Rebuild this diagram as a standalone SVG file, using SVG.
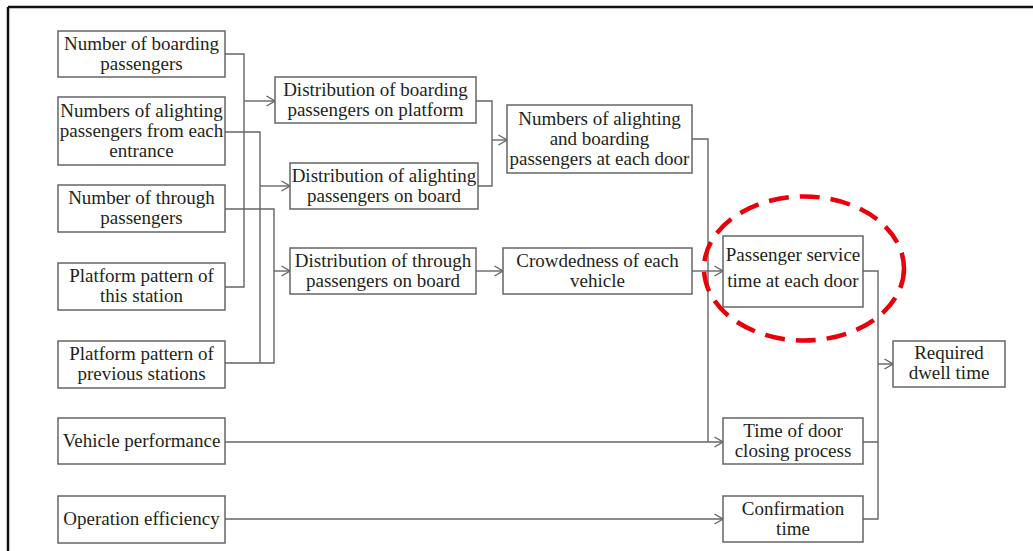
<svg xmlns="http://www.w3.org/2000/svg" width="1033" height="551" viewBox="0 0 1033 551">
<style>
.box{fill:#fff;stroke:#666;stroke-width:1.5}
.t{font-family:"Liberation Serif","Times New Roman",serif;font-size:19px;fill:#231f20;text-anchor:middle}
.c{fill:none;stroke:#666;stroke-width:1.4}
.a{marker-end:url(#arr)}
</style>
<defs>
<marker id="arr" markerUnits="userSpaceOnUse" viewBox="0 0 10 12" markerWidth="10" markerHeight="12" refX="9.5" refY="6" orient="auto">
<path d="M1,1 L9.5,6 L1,11" fill="none" stroke="#666" stroke-width="1.4"/>
</marker>
</defs>
<rect width="1033" height="551" fill="#fff"/>
<g id="frame">
<path d="M8,7 H1033 M8,7 V551" fill="none" stroke="#111" stroke-width="2.5"/>
</g>
<g id="connectors">
<path class="c" d="M225,54 H244 V287 H225"/>
<path class="c a" d="M244,101 H275"/>
<path class="c" d="M225,132 H260 V363"/>
<path class="c a" d="M260,186 H290"/>
<path class="c" d="M225,209 H274 V363 H225"/>
<path class="c a" d="M274,271 H290"/>
<path class="c" d="M476,101 H492 V186 H478"/>
<path class="c a" d="M492,140 H507"/>
<path class="c a" d="M476,271 H503"/>
<path class="c" d="M692,139 H708 V442"/>
<path class="c a" d="M692,271 H723"/>
<path class="c a" d="M225,442 H723"/>
<path class="c a" d="M225,519 H723"/>
<path class="c" d="M863,271 H878 V519 H863 M863,442 H878"/>
<path class="c a" d="M878,364 H893"/>
</g>
<g id="n1"><rect class="box" x="58" y="31" width="167" height="46"/><text class="t" x="141.5" y="50">Number of boarding</text><text class="t" x="141.5" y="70">passengers</text></g>
<g id="n2"><rect class="box" x="58" y="97" width="167" height="68"/><text class="t" x="141.5" y="117">Numbers of alighting</text><text class="t" x="141.5" y="137">passengers from each</text><text class="t" x="141.5" y="157">entrance</text></g>
<g id="n3"><rect class="box" x="58" y="185" width="167" height="47"/><text class="t" x="141.5" y="204">Number of through</text><text class="t" x="141.5" y="224">passengers</text></g>
<g id="n4"><rect class="box" x="58" y="263" width="167" height="47"/><text class="t" x="141.5" y="282">Platform pattern of</text><text class="t" x="141.5" y="302">this station</text></g>
<g id="n5"><rect class="box" x="58" y="341" width="167" height="47"/><text class="t" x="141.5" y="360">Platform pattern of</text><text class="t" x="141.5" y="380">previous stations</text></g>
<g id="n6"><rect class="box" x="58" y="418" width="167" height="46"/><text class="t" x="141.5" y="447">Vehicle performance</text></g>
<g id="n7"><rect class="box" x="58" y="496" width="167" height="47"/><text class="t" x="141.5" y="525">Operation efficiency</text></g>
<g id="m1"><rect class="box" x="275" y="77" width="201" height="46"/><text class="t" x="375.5" y="96">Distribution of boarding</text><text class="t" x="375.5" y="116">passengers on platform</text></g>
<g id="m2"><rect class="box" x="290" y="163" width="188" height="46"/><text class="t" x="384" y="182">Distribution of alighting</text><text class="t" x="384" y="202">passengers on board</text></g>
<g id="m3"><rect class="box" x="290" y="248" width="186" height="46"/><text class="t" x="383" y="267">Distribution of through</text><text class="t" x="383" y="287">passengers on board</text></g>
<g id="d1"><rect class="box" x="507" y="105" width="185" height="68"/><text class="t" x="599.5" y="125">Numbers of alighting</text><text class="t" x="599.5" y="145">and boarding</text><text class="t" x="599.5" y="165">passengers at each door</text></g>
<g id="d2"><rect class="box" x="503" y="248" width="189" height="46"/><text class="t" x="597.5" y="267">Crowdedness of each</text><text class="t" x="597.5" y="287">vehicle</text></g>
<g id="r1"><rect class="box" x="723" y="236" width="140" height="71"/><text class="t" x="793" y="261">Passenger service</text><text class="t" x="793" y="287">time at each door</text></g>
<g id="r2"><rect class="box" x="723" y="418" width="140" height="46"/><text class="t" x="793" y="437">Time of door</text><text class="t" x="793" y="457">closing process</text></g>
<g id="r3"><rect class="box" x="723" y="496" width="140" height="46"/><text class="t" x="793" y="515">Confirmation</text><text class="t" x="793" y="535">time</text></g>
<g id="out"><rect class="box" x="893" y="341" width="112" height="46"/><text class="t" x="949" y="359">Required</text><text class="t" x="949" y="379">dwell time</text></g>
<g id="highlight"><ellipse cx="804" cy="268.5" rx="100" ry="72" fill="none" stroke="#e8000b" stroke-width="4.5" stroke-dasharray="20 11"/></g>
</svg>
